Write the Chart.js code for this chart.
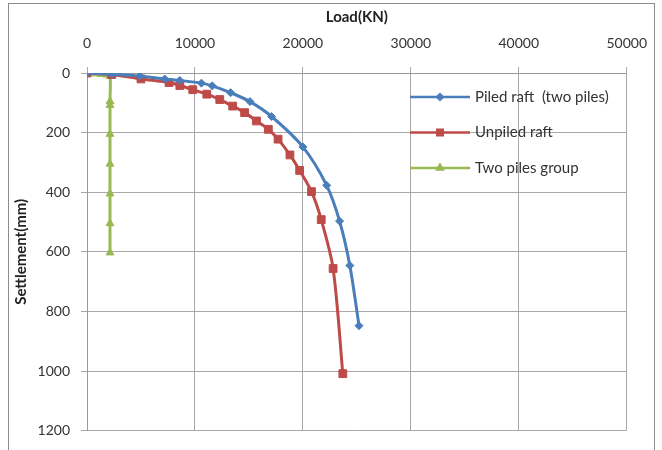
<!DOCTYPE html>
<html>
<head>
<meta charset="utf-8">
<script src="https://cdn.jsdelivr.net/npm/chart.js@4.4.1/dist/chart.umd.min.js"></script>
<style>
    html, body { margin: 0; padding: 0; background: #fff; }
    #wrap { width: 662px; height: 450px; position: relative; }
</style>
</head>
<body>
<div id="wrap"><canvas id="settlementChart" width="662" height="450"></canvas></div>
<script>
// series labels
const seriesNames = ['Piled raft  (two piles)', 'Unpiled raft', 'Two piles group'];

// Piled raft (two piles): load (kN) vs settlement (mm)
const piledLoad = [0, 2300, 4900, 7200, 8600, 10600, 11600, 13300, 15100, 17100, 20000, 22200, 23400, 24350, 25200];
const piledSettle = [0, 4, 10, 20, 25, 34, 43, 66, 96, 146, 248, 377, 497, 646, 848];

// Unpiled raft
const unpiledLoad = [0, 2300, 5000, 7600, 8600, 9800, 11100, 12300, 13500, 14600, 15700, 16800, 17700, 18800, 19700, 20800, 21700, 22800, 23700];
const unpiledSettle = [0, 5, 20, 32, 42, 56, 71, 89, 111, 133, 161, 189, 222, 275, 327, 398, 492, 656, 1009];

// Two piles group
const groupLoad = [0, 700, 1300, 1800, 2130, 2130, 2130, 2130, 2130, 2130, 2130, 2130];
const groupSettle = [0, 2, 4, 6, 10, 95, 108, 205, 305, 405, 505, 603];

// axis ticks
const loadTicks = [0, 10000, 20000, 30000, 40000, 50000];
const settleTicks = [0, 200, 400, 600, 800, 1000, 1200];

const colors = ['#4a7ebb', '#be4b48', '#98b954'];
const FONT = 'Lato, "Open Sans", sans-serif';

function toPoints(xs, ys) {
    return xs.map((x, i) => ({ x: x, y: ys[i] }));
}

// frame round the whole picture
const framePlugin = {
    id: 'frame',
    beforeDraw(chart) {
        const ctx = chart.ctx;
        ctx.save();
        ctx.fillStyle = '#fff';
        ctx.fillRect(0, 0, chart.width, chart.height);
        ctx.strokeStyle = '#8c8c8c';
        ctx.lineWidth = 1;
        ctx.strokeRect(8.5, 3.5, 646, 460);
        ctx.restore();
    }
};

// legend drawn inside the plot area, top right
const legendPlugin = {
    id: 'innerLegend',
    afterDraw(chart) {
        const ctx = chart.ctx;
        ctx.save();
        chart.data.datasets.forEach((ds, i) => {
            const y = 97 + i * 35.5;
            ctx.strokeStyle = ds.borderColor;
            ctx.lineWidth = 2.5;
            ctx.beginPath();
            ctx.moveTo(410, y);
            ctx.lineTo(470, y);
            ctx.stroke();
            ctx.fillStyle = ds.borderColor;
            Chart.helpers.drawPoint(ctx, {
                pointStyle: ds.pointStyle,
                radius: ds.pointRadius * 0.7,
                rotation: 0,
                borderWidth: 1
            }, 440, y);
            ctx.fillStyle = '#333';
            ctx.font = '15px ' + FONT;
            ctx.textBaseline = 'middle';
            ctx.textAlign = 'left';
            ctx.fillText(ds.label, 475, y);
        });
        ctx.restore();
    }
};

const ctx = document.getElementById('settlementChart').getContext('2d');
const settlementChart = new Chart(ctx, {
    type: 'scatter',
    data: {
        datasets: [
            {
                label: seriesNames[0],
                data: toPoints(piledLoad, piledSettle),
                borderColor: colors[0],
                backgroundColor: colors[0],
                pointStyle: 'rectRot',
                pointRadius: 4
            },
            {
                label: seriesNames[1],
                data: toPoints(unpiledLoad, unpiledSettle),
                borderColor: colors[1],
                backgroundColor: colors[1],
                pointStyle: 'rect',
                pointRadius: 5.5
            },
            {
                label: seriesNames[2],
                data: toPoints(groupLoad, groupSettle),
                borderColor: colors[2],
                backgroundColor: colors[2],
                pointStyle: 'triangle',
                pointRadius: 4.5
            }
        ].map(ds => Object.assign(ds, {
            showLine: true,
            borderWidth: 3,
            tension: 0.3,
            pointBorderWidth: 1
        }))
    },
    options: {
        responsive: false,
        animation: false,
        layout: { padding: { left: 0, top: 0, right: 35, bottom: 14 } },
        plugins: {
            legend: { display: false },
            tooltip: { enabled: false }
        },
        scales: {
            x: {
                type: 'linear',
                position: 'top',
                min: 0,
                max: 50000,
                afterBuildTicks: (scale) => { scale.ticks = loadTicks.map(v => ({ value: v })); },
                afterFit: (scale) => { scale.height = 73; },
                ticks: {
                    color: '#333',
                    font: { family: FONT, size: 14 },
                    padding: 15,
                    maxRotation: 0,
                    callback: (v) => String(v)
                },
                grid: { color: '#a8a8a8', tickLength: 6 },
                border: { color: '#999' },
                title: {
                    display: true,
                    text: 'Load(KN)',
                    color: '#222',
                    font: { family: FONT, size: 15, weight: 'bold' },
                    padding: { top: 8, bottom: 0 }
                }
            },
            y: {
                type: 'linear',
                reverse: true,
                min: 0,
                max: 1200,
                afterBuildTicks: (scale) => { scale.ticks = settleTicks.map(v => ({ value: v })); },
                afterFit: (scale) => { scale.width = 87; },
                ticks: {
                    color: '#333',
                    font: { family: FONT, size: 14 },
                    padding: 11,
                    callback: (v) => String(v)
                },
                grid: { color: '#a8a8a8', tickLength: 6 },
                border: { color: '#999' },
                title: {
                    display: true,
                    text: 'Settlement(mm)',
                    color: '#222',
                    font: { family: FONT, size: 15, weight: 'bold' },
                    padding: { top: 12, bottom: 0 }
                }
            }
        }
    },
    plugins: [framePlugin, legendPlugin]
});
</script>
</body>
</html>
